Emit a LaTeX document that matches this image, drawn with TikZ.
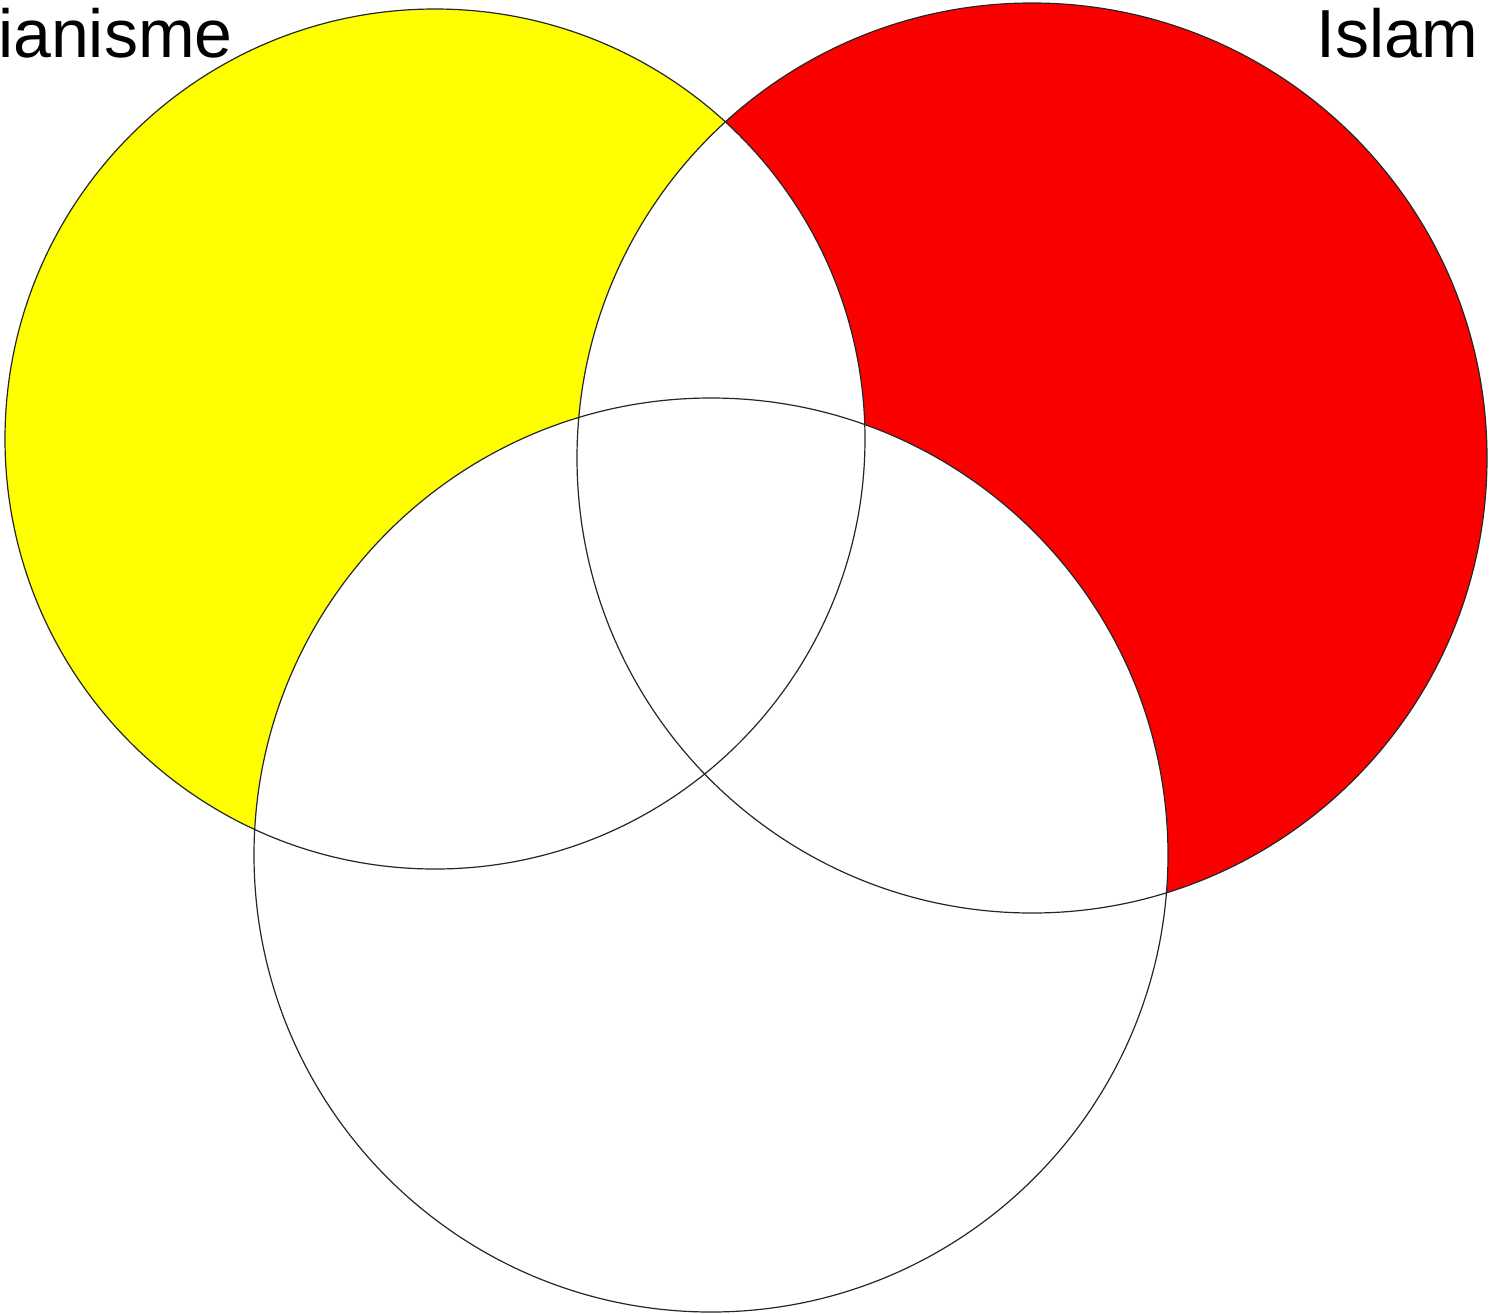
\documentclass[tikz,border=0pt]{standalone}
\usepackage{fontspec}
\setmainfont{Liberation Sans}
\definecolor{vennyellow}{RGB}{255,255,0}
\definecolor{vennred}{RGB}{252,0,0}
\begin{document}
\begin{tikzpicture}[x=0.5pt,y=-0.5pt,
  outline/.style={draw=black!85,line width=0.6pt},
  label/.style={inner sep=0pt,font=\fontsize{34}{40}\selectfont}]
\useasboundingbox (0,0) rectangle (1489,1313);
% fills
\fill[vennyellow] (435,439) circle[radius=430];
\fill[vennred] (1032,458) circle[radius=455];
\begin{scope}
  \clip (435,439) circle[radius=430];
  \fill[white] (1032,458) circle[radius=455];
\end{scope}
\fill[white] (711,855) circle[radius=457];
% outlines
\draw[outline] (435,439) circle[radius=430];
\draw[outline] (1032,458) circle[radius=455];
\draw[outline] (711,855) circle[radius=457];
% labels
\node[label,anchor=base east] (chr) at (233,57) {ianisme};
\node[label,anchor=base east] (isl) at (1479,57) {Islam};
\end{tikzpicture}
\end{document}
